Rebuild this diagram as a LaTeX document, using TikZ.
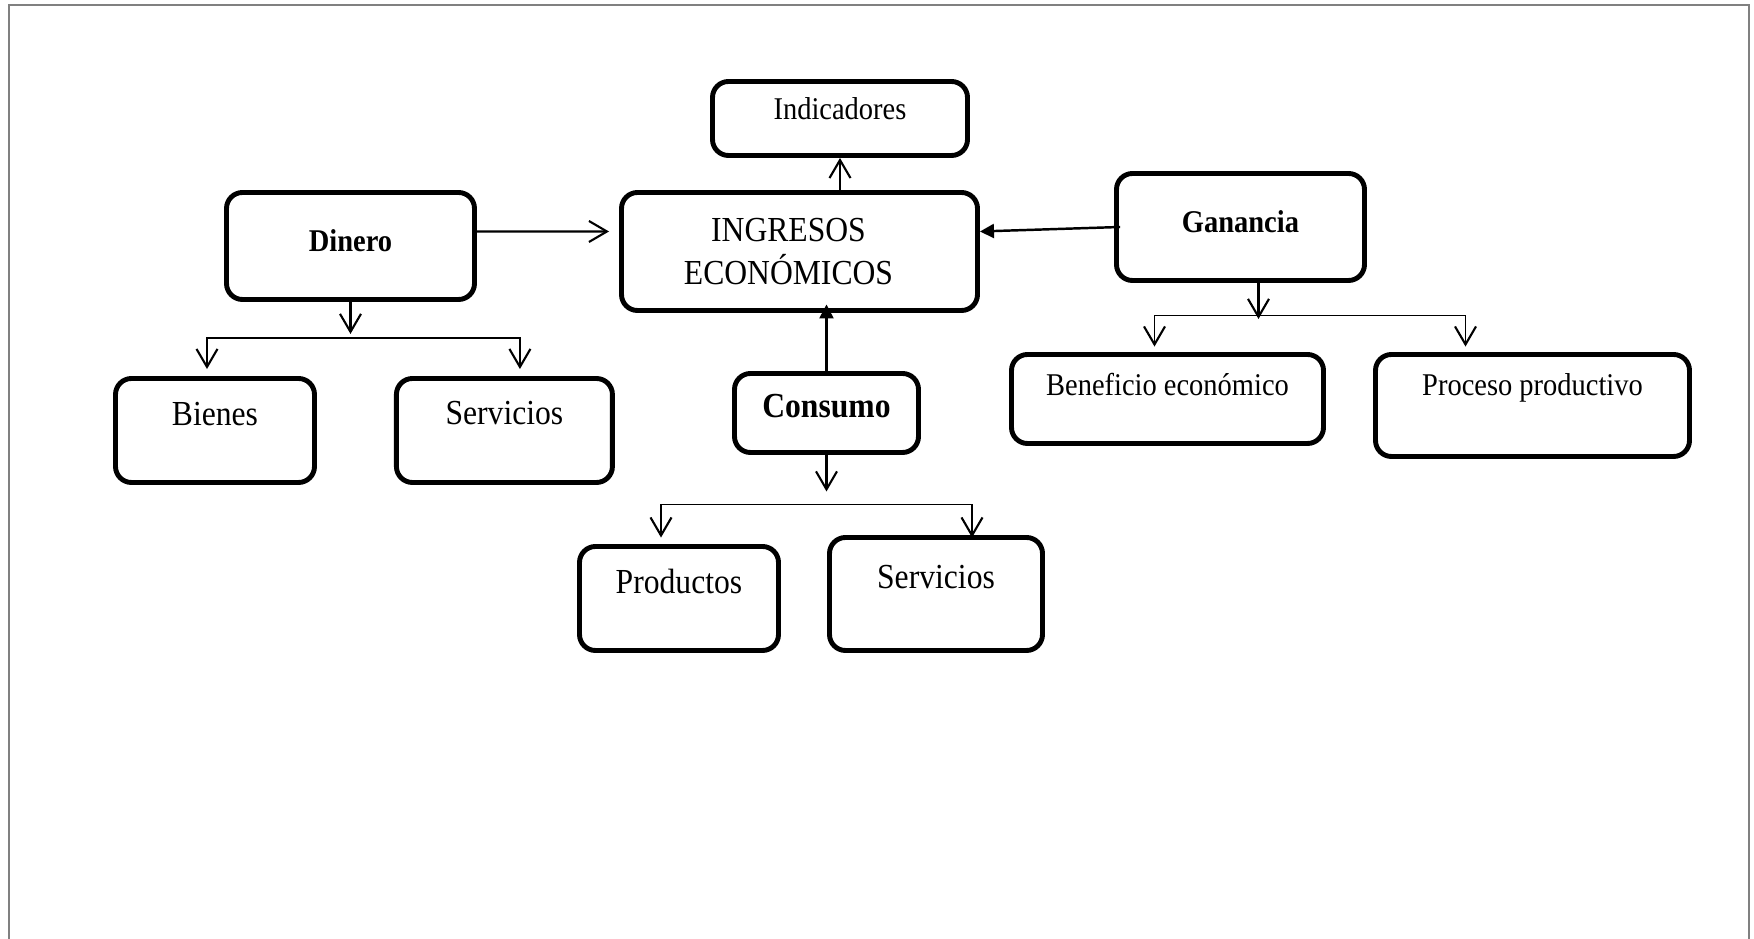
\documentclass[tikz,border=0pt]{standalone}
\usepackage{fontspec}
\setmainfont{Liberation Serif}[FakeStretch=0.9]
\usepackage{tikz}
\usetikzlibrary{arrows.meta,positioning,calc}

\begin{document}
\begin{tikzpicture}[
    box/.style={rectangle, rounded corners=1.6mm,
                draw=black, line width=1.4pt, fill=white,
                inner sep=0pt, align=center},
    lift/.style={text height=2.7mm, text depth=#1},
    lbl/.style={font=\fontsize{10}{12}\selectfont},
    lblsmall/.style={font=\fontsize{9}{11}\selectfont},
    head/.style={font=\fontsize{9}{11}\selectfont\bfseries},
    headbig/.style={font=\fontsize{10}{12}\selectfont\bfseries},
    arr/.style={-{Straight Barb[length=1.8mm,width=2.1mm,line width=0.6pt]},
                line width=0.6pt},
    brn/.style={-{Straight Barb[length=1.8mm,width=2.1mm,line width=0.6pt]},
                line width=0.4pt},
    tri/.style={-{Triangle[length=1.4mm,width=1.4mm]}, line width=0.7pt},
    pageframe/.style={draw=gray, line width=0.5pt},
]
\useasboundingbox (0,0) rectangle (17.54,-9.39);
\draw[pageframe] (0.09,-9.39) -- (0.09,-0.05) -- (17.49,-0.05) -- (17.49,-9.39);

%% ─── Centre ─────────────────────────────────────────────────────────────────
\node[box, lbl, minimum width=3.56cm, minimum height=1.18cm] (ingresos)
    at (7.995,-2.515) {INGRESOS\hspace*{2.2mm}\\ECONÓMICOS\hspace*{2.2mm}};

\node[box, lblsmall, lift=2.5mm, minimum width=2.55cm, minimum height=0.74cm]
    (indicadores) at (8.40,-1.185) {Indicadores};

%% ─── Dinero (left) ──────────────────────────────────────────────────────────
\node[box, head, lift=1.6mm, minimum width=2.48cm, minimum height=1.07cm]
    (dinero) at (3.505,-2.46) {Dinero};

\node[box, lbl, lift=3.6mm, minimum width=1.99cm, minimum height=1.04cm]
    (bienes) at (2.15,-4.305) {Bienes};

\node[box, lbl, lift=3.8mm, minimum width=2.16cm, minimum height=1.04cm,
      right=0.77cm of bienes] (serv_d) {Servicios};

%% ─── Ganancia (right) ───────────────────────────────────────────────────────
\node[box, head, lift=1.6mm, minimum width=2.48cm, minimum height=1.07cm]
    (ganancia) at (12.405,-2.27) {Ganancia};

\node[box, lblsmall, lift=3.3mm, minimum width=3.12cm, minimum height=0.89cm]
    (beneficio) at (11.675,-3.99) {Beneficio económico};

\node[box, lblsmall, lift=4.6mm, minimum width=3.14cm, minimum height=1.02cm]
    (proceso) at (15.325,-4.055) {Proceso productivo};

%% ─── Consumo (bottom) ───────────────────────────────────────────────────────
\node[box, headbig, lift=1.7mm, minimum width=1.84cm, minimum height=0.79cm]
    (consumo) at (8.265,-4.13) {Consumo};

\node[box, lbl, lift=3.6mm, minimum width=1.99cm, minimum height=1.04cm]
    (productos) at (6.79,-5.985) {Productos};

\node[box, lbl, lift=3.7mm, minimum width=2.13cm, minimum height=1.13cm]
    (serv_c) at (9.36,-5.94) {Servicios};

%% ─── Into the centre ────────────────────────────────────────────────────────
\draw[arr] ([yshift=1.45mm]dinero.east) -- ([xshift=-1mm,yshift=2mm]ingresos.west);
\draw[arr] (ingresos.north -| indicadores.south) -- (indicadores.south);
\draw[tri] ([xshift=0.6mm]ganancia.west) -- ([yshift=2mm]ingresos.east);
\draw[tri] ([yshift=-0.1mm]consumo.north)
    -- ($(consumo.north |- ingresos.south)+(0,0.85mm)$);

%% ─── Forks ──────────────────────────────────────────────────────────────────
\coordinate (d_fk) at ($(dinero.south)+(0,-3.6mm)$);
\coordinate (g_fk) at ($(ganancia.south)+(1.8mm,-3.25mm)$);
\coordinate (c_fk) at ($(consumo.south)+(0,-4.95mm)$);

\draw[arr, shorten >=0.4mm]  (dinero.south) -- (d_fk);
\draw[brn] (d_fk) -| ([xshift=-0.8mm,yshift=0.7mm]bienes.north);
\draw[brn] (d_fk) -| ([xshift=1.55mm,yshift=0.7mm]serv_d.north);

\draw[arr, shorten >=-0.35mm] (ganancia.south -| g_fk) -- (g_fk);
\draw[brn] (g_fk) -| ([xshift=-1.3mm,yshift=0.55mm]beneficio.north);
\draw[brn] (g_fk) -| ([xshift=-6.7mm,yshift=0.55mm]proceso.north);

\draw[arr, shorten >=1.3mm]  (consumo.south) -- (c_fk);
\draw[brn] (c_fk) -| ([xshift=-1.8mm,yshift=0.65mm]productos.north);
\draw[brn] (c_fk) -| ([xshift=3.6mm,yshift=-0.25mm]serv_c.north);

\end{tikzpicture}
\end{document}
